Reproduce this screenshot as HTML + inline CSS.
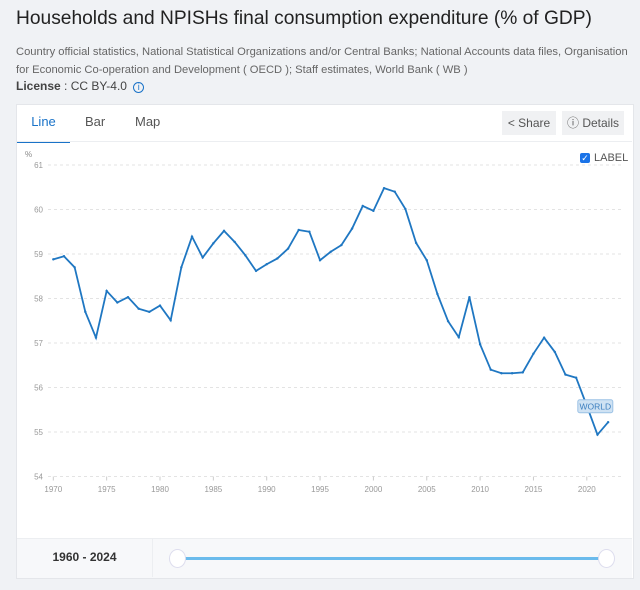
<!DOCTYPE html>
<html><head><meta charset="utf-8"><style>
body{margin:0;width:640px;height:590px;background:#f0f2f5;font-family:"Liberation Sans",sans-serif;position:relative;overflow:hidden}
.abs{position:absolute}
</style></head><body>
<div class="abs" style="left:16px;top:8px;font-size:19.2px;color:#222;white-space:nowrap">Households and NPISHs final consumption expenditure (% of GDP)</div>
<div class="abs" style="left:16px;top:43px;font-size:11.2px;line-height:18px;color:#666;width:622px">Country official statistics, National Statistical Organizations and/or Central Banks; National Accounts data files, Organisation for Economic Co-operation and Development ( OECD ); Staff estimates, World Bank ( WB )</div>
<div class="abs" style="left:16px;top:79px;font-size:12px;color:#444"><b>License</b> : CC BY-4.0 <span style="color:#1a73c8;font-size:9px;border:1px solid #1a73c8;border-radius:50%;display:inline-block;width:9px;height:9px;line-height:9px;text-align:center;margin-left:3px">i</span></div>
<div class="abs" style="left:16px;top:104px;width:616px;height:473px;background:#fff;border:1px solid #e4e6ea"></div>
<div class="abs" style="left:17px;top:104px;width:53px;height:37px;border-bottom:2px solid #1a73c8;color:#1a73c8;font-size:13px;text-align:center;line-height:36px">Line</div>
<div class="abs" style="left:85px;top:104px;font-size:13px;color:#555;line-height:36px">Bar</div>
<div class="abs" style="left:135px;top:104px;font-size:13px;color:#555;line-height:36px">Map</div>
<div class="abs" style="left:17px;top:141px;width:615px;height:1px;background:#eceef1"></div>
<div class="abs" style="left:502px;top:111px;width:54px;height:24px;background:#f0f1f3;font-size:12px;color:#555;line-height:24px;text-align:center">&lt; Share</div>
<div class="abs" style="left:562px;top:111px;width:62px;height:24px;background:#f0f1f3;font-size:12px;color:#555;line-height:24px;text-align:center">ⓘ Details</div>
<div class="abs" style="left:580px;top:153px;width:10px;height:10px;background:#1a73e8;border-radius:2px;color:#fff;font-size:9px;line-height:10px;text-align:center">✓</div>
<div class="abs" style="left:594px;top:152px;font-size:11px;color:#555">LABEL</div>
<svg class="abs" style="left:0;top:0" width="640" height="590" id="chart"></svg>
<div class="abs" style="left:17px;top:538px;width:615px;height:39px;background:#f7f8fa;border-top:1px solid #eceef1"></div>
<div class="abs" style="left:152px;top:538px;width:1px;height:39px;background:#eceef1"></div>
<div class="abs" style="left:17px;top:550px;width:135px;text-align:center;font-size:12px;font-weight:bold;color:#333">1960 - 2024</div>
<div class="abs" style="left:177px;top:557px;width:430px;height:3px;background:#6bbbec"></div>
<div class="abs" style="left:169px;top:549px;width:15px;height:17px;border-radius:50%;background:#fff;border:1px solid #dde"></div>
<div class="abs" style="left:598px;top:549px;width:15px;height:17px;border-radius:50%;background:#fff;border:1px solid #dde"></div>
<script>
const years=[1970,1971,1972,1973,1974,1975,1976,1977,1978,1979,1980,1981,1982,1983,1984,1985,1986,1987,1988,1989,1990,1991,1992,1993,1994,1995,1996,1997,1998,1999,2000,2001,2002,2003,2004,2005,2006,2007,2008,2009,2010,2011,2012,2013,2014,2015,2016,2017,2018,2019,2020,2021,2022];
const values=[58.88,58.95,58.70,57.70,57.12,58.17,57.91,58.03,57.77,57.70,57.84,57.51,58.70,59.39,58.92,59.24,59.52,59.27,58.97,58.62,58.77,58.90,59.12,59.54,59.50,58.86,59.05,59.20,59.57,60.08,59.97,60.48,60.40,60.01,59.25,58.86,58.10,57.49,57.13,58.03,56.97,56.40,56.32,56.32,56.34,56.76,57.12,56.80,56.29,56.22,55.59,54.94,55.22];
const yTicks=[54,55,56,57,58,59,60,61];
const xTicks=[1970,1975,1980,1985,1990,1995,2000,2005,2010,2015,2020];
const svg=document.getElementById('chart');const NS='http://www.w3.org/2000/svg';
const X=y=>53.3+(y-1970)*10.67;const Y=v=>165+(61-v)*44.5;
function mk(t,a){const e=document.createElementNS(NS,t);for(const k in a)e.setAttribute(k,a[k]);svg.appendChild(e);return e;}
let t=mk('text',{x:25,y:157,'font-size':8,fill:'#888'});t.textContent='%';


yTicks.forEach(v=>{const l=mk('line',{x1:48,x2:622,y1:Y(v),y2:Y(v),stroke:'#e3e3e3','stroke-dasharray':'3,3'});


const tx=mk('text',{x:43,y:Y(v)+3,'font-size':8,fill:'#999','text-anchor':'end'});tx.textContent=v;

});
xTicks.forEach(v=>{const tx=mk('text',{x:X(v),y:492,'font-size':8,fill:'#999','text-anchor':'middle'});tx.textContent=v;


mk('line',{x1:X(v),x2:X(v),y1:Y(54),y2:Y(54)+4,stroke:'#ccc'});});
const p=mk('polyline',{points:years.map((y,i)=>X(y)+','+Y(values[i])).join(' '),fill:'none',stroke:'#1f77c2','stroke-width':1.8});


years.forEach((y,i)=>{const c=mk('circle',{cx:X(y),cy:Y(values[i]),r:1.2,fill:'#1f77c2'});

});
const li=years.length-3;
const r=mk('rect',{x:X(years[li])-9,y:Y(values[li])-6,width:35,height:13,rx:2,fill:'#cfe2f3',stroke:'#9cc2e5'});


const lt=mk('text',{x:X(years[li])+8.5,y:Y(values[li])+4,'font-size':8.5,fill:'#3d7fbf','text-anchor':'middle'});lt.textContent='WORLD';


</script>
</body></html>
